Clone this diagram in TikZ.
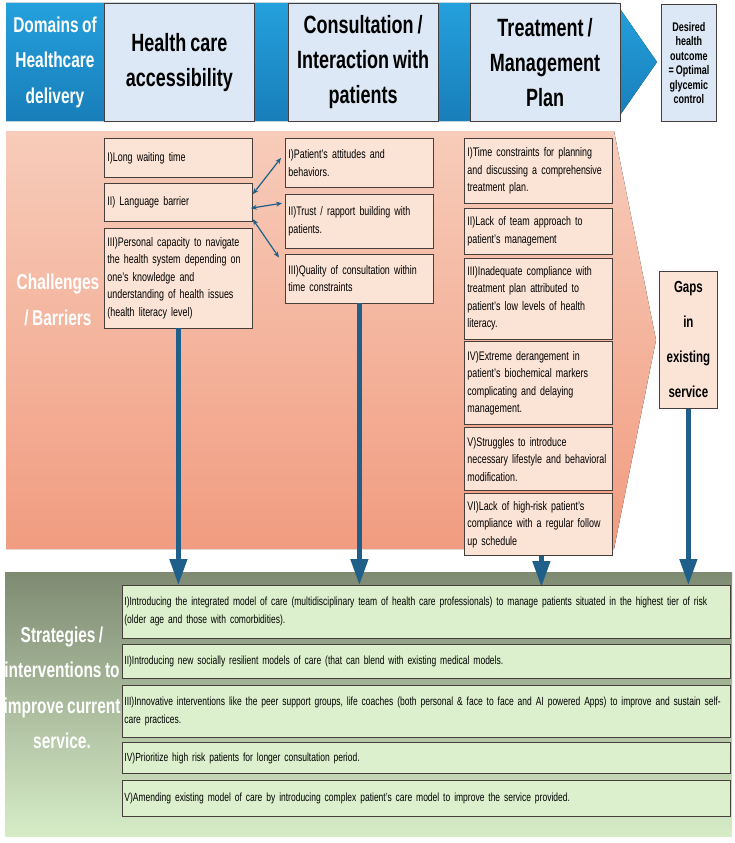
\documentclass[tikz,border=0pt]{standalone}
\usepackage{fontspec}
\setmainfont{Liberation Sans}[FakeStretch=0.72,WordSpace=0.8]
\usetikzlibrary{arrows.meta,positioning}

\definecolor{bannertop}{RGB}{36,160,220}
\definecolor{bannerbot}{RGB}{24,126,186}
\definecolor{bannerbox}{RGB}{220,232,245}
\definecolor{salmontop}{RGB}{247,204,186}
\definecolor{salmonbot}{RGB}{241,156,128}
\definecolor{barrierbox}{RGB}{251,227,214}
\definecolor{greentop}{RGB}{126,139,114}
\definecolor{greenmid}{RGB}{178,204,163}
\definecolor{greenbot}{RGB}{214,236,199}
\definecolor{strategybox}{RGB}{220,240,205}
\definecolor{boxline}{RGB}{70,62,58}
\definecolor{arrowblue}{RGB}{31,95,138}

\begin{document}
\begin{tikzpicture}[x=1pt,y=-1pt,
		domainbox/.style={rectangle,draw=boxline,fill=bannerbox,line width=0.8pt,minimum width=150pt,minimum height=118pt,align=center,font=\fontsize{25}{35}\selectfont\bfseries},
		outcomebox/.style={rectangle,draw=boxline,fill=bannerbox,line width=0.8pt,minimum width=55pt,minimum height=117pt,inner sep=1pt,align=center,font=\fontsize{12.5}{14.5}\selectfont\bfseries},
		sidetitle/.style={text=white,align=center,font=\fontsize{21.5}{35.5}\selectfont\bfseries},
		barrier/.style={rectangle,draw=boxline,fill=barrierbox,line width=0.8pt,text width=142pt,inner xsep=3pt,inner ysep=2pt,align=left,font=\fontsize{12.4}{17.5}\selectfont},
		gapbox/.style={rectangle,draw=boxline,fill=barrierbox,line width=0.8pt,minimum width=58pt,minimum height=137pt,align=center,font=\fontsize{16}{35}\selectfont\bfseries},
		strategy/.style={rectangle,draw=boxline,fill=strategybox,line width=0.8pt,text width=604pt,inner xsep=2pt,inner ysep=2pt,align=left,font=\fontsize{11.8}{18}\selectfont},
		marrow/.style={arrowblue,line width=4.5pt,-{Triangle[width=17pt,length=26pt]}},
		tarrow/.style={arrowblue,line width=1.2pt,{Stealth[length=6pt,width=5pt]}-{Stealth[length=6pt,width=5pt]}}]
		\path [use as bounding box,fill=white] (0,0) rectangle (735,843);

		% background bands
		\fill [top color=bannertop,bottom color=bannerbot] (6,3) -- (616,3) -- (657,62) -- (616,121) -- (6,121) -- cycle;
		\fill [top color=salmontop,bottom color=salmonbot] (6,131) -- (614,131) -- (656,340) -- (614,549) -- (6,549) -- cycle;
		\fill [top color=greentop,middle color=greenmid,bottom color=greenbot] (5,572) rectangle (732,836);

		% domains of delivery
		\node [sidetitle] (domains) at (55,62) {Domains of\\Healthcare\\delivery};
		\node [domainbox,anchor=north west] (access) at (104,3) {Health care\\accessibility};
		\node [domainbox] (consult) [right=33pt of access] {Consultation /\\Interaction with\\patients};
		\node [domainbox] (treat) [right=31pt of consult] {Treatment /\\Management\\Plan};
		\node [outcomebox,anchor=north west] (outcome) at (661,4) {Desired\\health\\outcome\\= Optimal\\glycemic\\control};

		% challenges
		\node [sidetitle] (challenges) at (58,300) {Challenges\\/ Barriers};
		\node [barrier,minimum height=39pt,anchor=north west] (access-a) at (104,138) {I)Long waiting time};
		\node [barrier,minimum height=38pt] (access-b) [below=5pt of access-a] {II) Language barrier};
		\node [barrier,minimum height=100pt] (access-c) [below=6pt of access-b] {III)Personal capacity to navigate\\the health system depending on\\one's knowledge and\\understanding of health issues\\(health literacy level)};

		\node [barrier,minimum height=49pt,anchor=north west] (consult-a) at (285,138) {I)Patient's attitudes and\\behaviors.};
		\node [barrier,minimum height=54pt] (consult-b) [below=6pt of consult-a] {II)Trust / rapport building with\\patients.};
		\node [barrier,minimum height=49pt] (consult-c) [below=5pt of consult-b] {III)Quality of consultation within\\time constraints};

		\node [barrier,minimum height=65pt,anchor=north west] (treat-a) at (464,138) {I)Time constraints for planning\\and discussing a comprehensive\\treatment plan.};
		\node [barrier,minimum height=46pt] (treat-b) [below=4pt of treat-a] {II)Lack of team approach to\\patient's management};
		\node [barrier,minimum height=81pt] (treat-c) [below=3pt of treat-b] {III)Inadequate compliance with\\treatment plan attributed to\\patient's low levels of health\\literacy.};
		\node [barrier,minimum height=83pt] (treat-d) [below=2pt of treat-c] {IV)Extreme derangement in\\patient's biochemical markers\\complicating and delaying\\management.};
		\node [barrier,minimum height=63pt] (treat-e) [below=2pt of treat-d] {V)Struggles to introduce\\necessary lifestyle and behavioral\\modification.};
		\node [barrier,minimum height=62pt] (treat-f) [below=2pt of treat-e] {VI)Lack of high-risk patient's\\compliance with a regular follow\\up schedule};

		\node [gapbox,anchor=north west] (gaps) at (659,271) {Gaps\\in\\existing\\service};

		% strategies
		\node [sidetitle] (strategies) at (62,688) {Strategies /\\interventions to\\improve current\\service.};
		\node [strategy,minimum height=53pt,anchor=north west] (strat-a) at (122,585) {I)Introducing the integrated model of care (multidisciplinary team of health care professionals) to manage patients situated in the highest tier of risk\\(older age and those with comorbidities).};
		\node [strategy,minimum height=34pt] (strat-b) [below=5pt of strat-a] {II)Introducing new socially resilient models of care (that can blend with existing medical models.};
		\node [strategy,minimum height=52pt] (strat-c) [below=6pt of strat-b] {III)Innovative interventions like the peer support groups, life coaches (both personal \& face to face and AI powered Apps) to improve and sustain self-\\care practices.};
		\node [strategy,minimum height=31pt] (strat-d) [below=5pt of strat-c] {IV)Prioritize high risk patients for longer consultation period.};
		\node [strategy,minimum height=36pt] (strat-e) [below=6pt of strat-d] {V)Amending existing model of care by introducing complex patient's care model to improve the service provided.};

		% ends of the long arrows
		\coordinate (access-end) at (access-c.south |- strat-a.north);
		\coordinate (consult-end) at (consult-c.south |- strat-a.north);
		\coordinate (treat-start) at ([xshift=3pt]treat-f.south);
		\coordinate (treat-end) at ([yshift=-2pt]treat-start |- strat-a.north);
		\coordinate (gaps-end) at (gaps.south |- strat-a.north);

		% links between barriers
		\draw [tarrow] ([yshift=8pt]access-b.east) -- ([xshift=-4pt,yshift=5pt]consult-a.west);
		\draw [tarrow] ([xshift=-2pt,yshift=-6pt]access-b.east) -- ([xshift=-3pt,yshift=18pt]consult-b.west);
		\draw [tarrow] ([yshift=-17pt]access-b.east) -- ([xshift=-6pt,yshift=21pt]consult-c.west);

		% vertical arrows
		\draw [marrow] (access-c) -- (access-end);
		\draw [marrow] (consult-c) -- (consult-end);
		\draw [marrow] (treat-start) -- (treat-end);
		\draw [marrow] (gaps) -- (gaps-end);
	\end{tikzpicture}
\end{document}
